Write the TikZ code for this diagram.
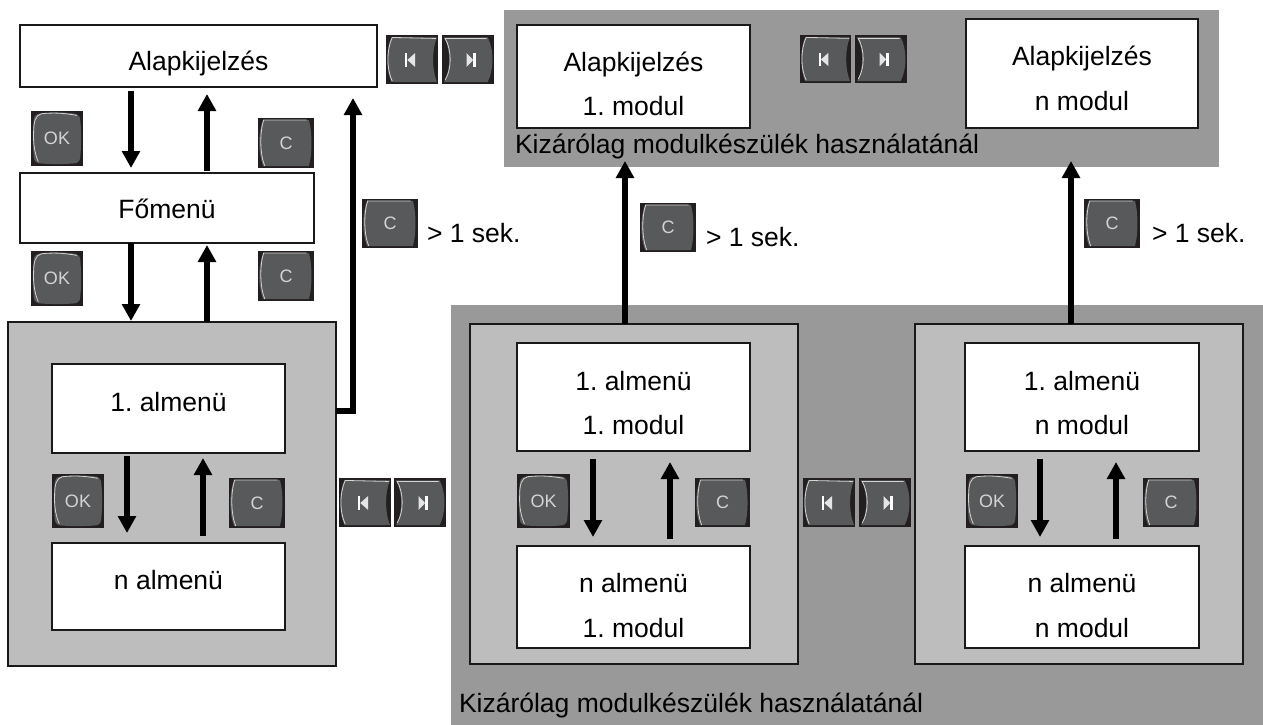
\documentclass[tikz,border=0pt]{standalone}
\usepackage{fontspec}
\setmainfont{Liberation Sans}
\usetikzlibrary{arrows.meta}
\definecolor{zonegray}{HTML}{999999}
\definecolor{panelgray}{HTML}{BDBDBD}
\definecolor{btnbg}{HTML}{231F20}
\definecolor{btnface}{HTML}{58595B}
\definecolor{btnglow}{HTML}{D4D4D4}
\tikzset{
  box/.style={rectangle,inner sep=0pt,outer sep=0pt},
  txtbox/.style={box,draw=black!90,line width=1.6pt,fill=white,font=\fontsize{26.5}{30}\selectfont\frenchspacing},
  panel/.style={box,draw=black!90,line width=1.8pt,fill=panelgray},
  zone/.style={box,fill=zonegray},
  arr/.style={line width=6pt,draw=black,-{Triangle[width=17.5pt,length=17pt]}},
  note/.style={inner sep=0pt,outer sep=0pt,anchor=base west,font=\fontsize{26.5}{30}\selectfont\frenchspacing},
  glow/.style={draw=btnglow,line width=0.8pt},
}
\newcommand\bx[7][]{\node[#2,#1,minimum width={(#5)-(#3)},minimum height={(#6)-(#4)}] (#7) at ({((#3)+(#5))/2},{((#4)+(#6))/2})}
\newcommand\onel[2]{\makebox[0pt]{\raisebox{#1pt}[0pt][0pt]{#2}}}
\newcommand\twol[4]{\makebox[0pt]{\raisebox{#1pt}[0pt][0pt]{#2}}\makebox[0pt]{\raisebox{#3pt}[0pt][0pt]{#4}}}
% button faces, drawn in a unit square centred on the button
\newcommand\faceok{%
  \fill[btnface] (-.36,-.45) .. controls (-.15,-.48) and (.15,-.48) .. (.36,-.45)
    .. controls (.43,-.43) and (.45,-.38) .. (.45,-.3)
    .. controls (.47,-.1) and (.47,.1) .. (.45,.3)
    .. controls (.45,.38) and (.43,.43) .. (.36,.45)
    .. controls (.15,.47) and (-.15,.47) .. (-.36,.45)
    .. controls (-.43,.43) and (-.45,.38) .. (-.45,.3)
    .. controls (-.47,.1) and (-.47,-.1) .. (-.45,-.3)
    .. controls (-.45,-.38) and (-.43,-.43) .. (-.36,-.45) -- cycle;
  \draw[glow] (-.36,.42) .. controls (-.42,.3) and (-.46,.1) .. (-.45,-.1)
    .. controls (-.45,-.3) and (-.42,-.42) .. (-.3,-.45)
    .. controls (-.1,-.47) and (.1,-.47) .. (.38,-.42);}
\newcommand\facec{%
  \fill[btnface] (-.41,-.46) -- (.41,-.46)
    .. controls (.47,-.2) and (.47,.2) .. (.41,.46)
    -- (-.41,.46) .. controls (-.5,.2) and (-.5,-.2) .. (-.41,-.46) -- cycle;
  \draw[glow] (-.38,.46) .. controls (-.47,.2) and (-.47,-.2) .. (-.4,-.46) -- (.37,-.46);}
\newcommand\faceprev{%
  \fill[btnface] (-.4,-.45) -- (.48,-.45)
    .. controls (.38,-.2) and (.38,.2) .. (.48,.46)
    -- (-.4,.46) .. controls (-.5,.2) and (-.5,-.2) .. (-.4,-.45) -- cycle;
  \draw[glow] (-.38,.44) .. controls (-.49,.2) and (-.49,-.2) .. (-.38,-.45) -- (.46,-.43);
  \fill[white] (-.135,-.13) rectangle (-.09,.15);
  \fill[white!90!black] (-.09,.01) -- (.058,-.13) -- (.058,.15) -- cycle;}
\newcommand\facenext{%
  \fill[btnface] (-.46,-.45) -- (.38,-.45)
    .. controls (.5,-.2) and (.5,.2) .. (.38,.46)
    -- (-.46,.46) .. controls (-.33,.2) and (-.33,-.2) .. (-.46,-.45) -- cycle;
  \draw[glow] (-.44,.42) .. controls (-.31,.2) and (-.31,-.2) .. (-.44,-.43) -- (.36,-.43);
  \fill[white!90!black] (.10,.01) -- (-.026,-.13) -- (-.026,.15) -- cycle;
  \fill[white] (.10,-.13) rectangle (.147,.15);}
\newcommand\btn[7]{%
  \fill[btnbg] (#2,#3) rectangle (#4,#5);
  \begin{scope}[shift={({((#2)+(#4))/2},{((#3)+(#5))/2})},xscale={(#4)-(#2)},yscale={(#5)-(#3)}]#6\end{scope}
  \node[box,text=btnglow,font=\fontsize{18}{20}\selectfont,
    minimum width={(#4)-(#2)},minimum height={(#5)-(#3)}]
    (#1) at ({((#2)+(#4))/2},{((#3)+(#5))/2}) {#7};}
\begin{document}
\begin{tikzpicture}[x=1pt,y=-1pt]
\useasboundingbox (0,0) rectangle (1263,725);
% zones
\bx{zone}{504}{10}{1219}{167}{ztop} {};
\bx{zone}{451}{305}{1263}{725}{zbot} {};
% left column
\bx{txtbox}{20}{25}{377}{87}{alap} {\onel{-15}{Alapkijelzés}};
\bx{txtbox}{20}{173}{314}{243}{fomenu} {\onel{-10}{Főmenü}};
\bx{panel}{8}{322}{336}{666}{gleft} {};
\bx{txtbox}{52}{364}{285}{453}{alma} {\onel{-2.5}{1. almenü}};
\bx{txtbox}{52}{543}{285}{630}{almb} {\onel{-2.5}{n almenü}};
% top module displays
\bx{txtbox}{517}{25}{750}{128}{modone} {\twol{5.5}{Alapkijelzés}{-39.5}{1. modul}};
\bx{txtbox}{966}{19}{1198}{128}{modn} {\twol{7.5}{Alapkijelzés}{-36.5}{n modul}};
\node[note] (notetop) at (515,153) {Kizárólag modulkészülék használatánál};
% module panels
\bx{panel}{470}{324}{798}{664}{gmid} {};
\bx{txtbox}{517}{343}{750}{451}{mida} {\twol{7}{1. almenü}{-37}{1. modul}};
\bx{txtbox}{517}{546}{750}{648}{midb} {\twol{5}{n almenü}{-40}{1. modul}};
\bx{panel}{915}{324}{1243}{664}{gright} {};
\bx{txtbox}{965}{343}{1199}{451}{riga} {\twol{7}{1. almenü}{-37}{n modul}};
\bx{txtbox}{965}{546}{1199}{648}{rigb} {\twol{5}{n almenü}{-40}{n modul}};
\node[note] (notebot) at (459,712) {Kizárólag modulkészülék használatánál};
% connectors
\draw[arr,shorten <=4pt,shorten >=5pt] (131,0 |- alap.south) -- (131,0 |- fomenu.north);
\draw[arr,shorten <=2pt,shorten >=7pt] (207,0 |- fomenu.north) -- (207,0 |- alap.south);
\draw[arr,shorten >=1pt] (131,0 |- fomenu.south) -- (131,0 |- gleft.north);
\draw[arr,shorten >=2pt] (207,0 |- gleft.north) -- (207,0 |- fomenu.south);
\draw[arr,shorten >=11pt] (gleft.east |- 0,411) -| (353,0 |- alap.south);
\draw[arr,shorten <=3pt,shorten >=10pt] (127,0 |- alma.south) -- (127,0 |- almb.north);
\draw[arr,shorten <=7pt,shorten >=5pt] (203,0 |- almb.north) -- (203,0 |- alma.south);
\draw[arr,shorten <=8pt,shorten >=9pt] (593,0 |- mida.south) -- (593,0 |- midb.north);
\draw[arr,shorten <=7pt,shorten >=11pt] (670,0 |- midb.north) -- (670,0 |- mida.south);
\draw[arr,shorten <=8pt,shorten >=9pt] (1040,0 |- riga.south) -- (1040,0 |- rigb.north);
\draw[arr,shorten <=7pt,shorten >=11pt] (1116,0 |- rigb.north) -- (1116,0 |- riga.south);
\draw[arr,shorten >=-6pt] (625,0 |- gmid.north) -- (625,0 |- ztop.south);
\draw[arr,shorten >=-6pt] (1071,0 |- gright.north) -- (1071,0 |- ztop.south);
% buttons
\btn{okone}{31}{111}{83}{166}{\faceok}{OK}
\btn{cone}{258}{118}{314}{168}{\facec}{C}
\btn{oktwo}{31}{251}{83}{306}{\faceok}{OK}
\btn{ctwo}{258}{251}{314}{301}{\facec}{C}
\btn{okthree}{52}{474}{104}{528}{\faceok}{OK}
\btn{cthree}{229}{478}{285}{528}{\facec}{C}
\btn{okmid}{517}{474}{570}{528}{\faceok}{OK}
\btn{cmid}{695}{478}{750}{527}{\facec}{C}
\btn{okrig}{966}{474}{1018}{528}{\faceok}{OK}
\btn{crig}{1143}{478}{1199}{527}{\facec}{C}
\btn{prevtop}{386}{35}{438}{84}{\faceprev}{}
\btn{nexttop}{442}{35}{494}{84}{\facenext}{}
\btn{prevmod}{800}{35}{851}{83}{\faceprev}{}
\btn{nextmod}{855}{35}{907}{83}{\facenext}{}
\btn{prevleft}{339}{478}{391}{527}{\faceprev}{}
\btn{nextleft}{394}{478}{446}{527}{\facenext}{}
\btn{prevmid}{803}{478}{855}{527}{\faceprev}{}
\btn{nextmid}{859}{478}{911}{527}{\facenext}{}
\btn{clonga}{362}{199}{418}{248}{\facec}{C}
\btn{clongb}{640}{203}{696}{252}{\facec}{C}
\btn{clongc}{1084}{199}{1140}{248}{\facec}{C}
\node[note] (seka) at (427,242) {> 1 sek.};
\node[note] (sekb) at (706,246) {> 1 sek.};
\node[note] (sekc) at (1152,242) {> 1 sek.};
\end{tikzpicture}
\end{document}
